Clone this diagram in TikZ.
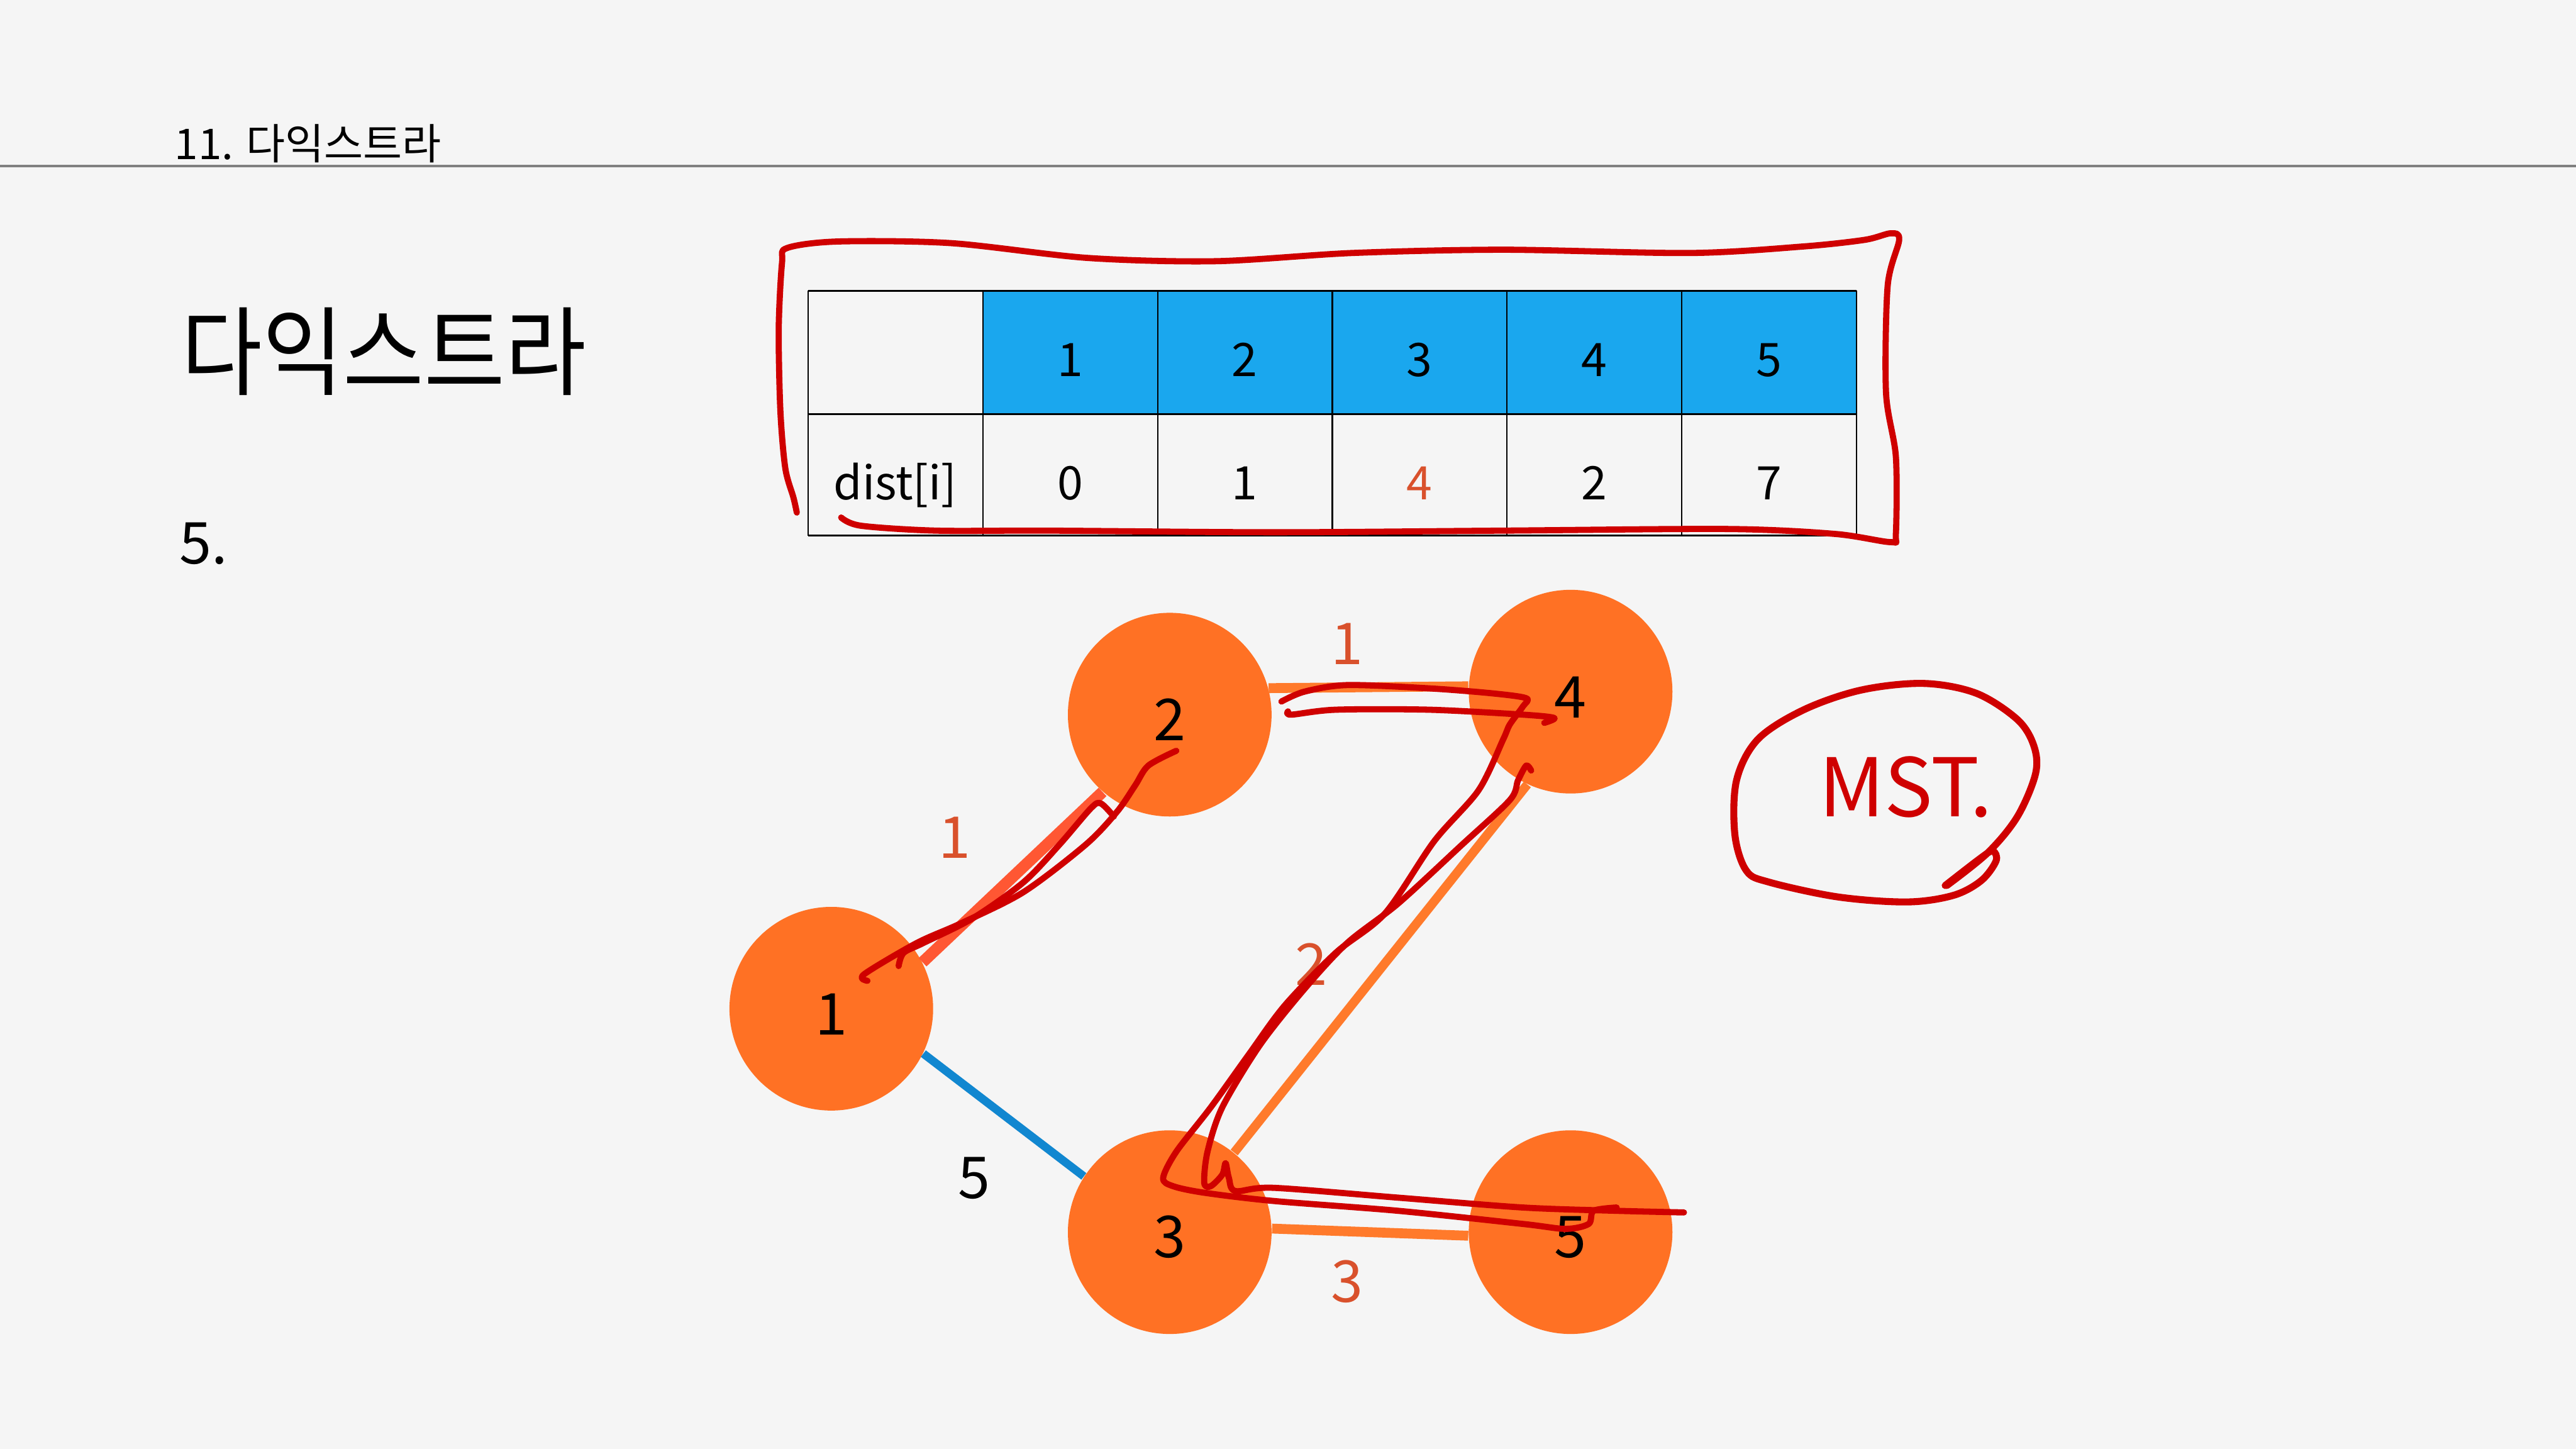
\documentclass[tikz,border=0pt]{standalone}
\usepackage{fontspec}
\setmainfont{Noto Sans CJK KR}
\usepackage{xcolor}

\definecolor{slidebg}{HTML}{F5F5F5}
\definecolor{cellblue}{HTML}{1AA7EE}
\definecolor{vertexorange}{HTML}{FF7124}
\definecolor{edgeorange}{HTML}{FF7A2B}
\definecolor{edgecoral}{HTML}{FF5733}
\definecolor{edgeblue}{HTML}{1187D0}
\definecolor{weightred}{HTML}{D9512C}
\definecolor{penred}{HTML}{CF0000}

\tikzset{
  vertex/.style={circle,fill=vertexorange,minimum size=2.48cm,inner sep=0pt,text height=18pt,font=\fontsize{20}{24}\selectfont},
  weight/.style={text=weightred,font=\fontsize{20}{24}\selectfont,inner sep=0pt},
  tablenum/.style={font=\fontsize{16}{19}\selectfont,anchor=base,inner sep=0pt},
  pen/.style={penred,line width=0.075cm,line cap=round,line join=round},
}

\begin{document}
\begin{tikzpicture}[x=0.02cm,y=-0.02cm]
\fill[slidebg] (0,0) rectangle (1568,882);
\useasboundingbox (0,0) rectangle (1568,882);

% Slide header and title
\node[anchor=base west,inner sep=0pt,font=\fontsize{14.7}{17}\selectfont] (header) at (106,97) {11. 다익스트라};
\draw[gray,line width=0.03cm] (0,101) -- (1568,101);
\node[anchor=base west,inner sep=0pt,font=\fontsize{30.5}{36}\selectfont] (title) at (110,236) {\scalebox{1}[1.1]{다익스트라}};
\node[anchor=base west,inner sep=0pt,font=\fontsize{20}{24}\selectfont] (stepno) at (109,343) {5.};

% Distance table
\foreach \i in {1,...,5}
  \fill[cellblue] ({492+106.33*\i},177) rectangle ({598.33+106.33*\i},252);
\foreach \c in {0,...,6}
  \draw[line width=0.5pt] ({492+106.33*\c},177) -- ({492+106.33*\c},326);
\foreach \r in {177,252,326}
  \draw[line width=0.6pt] (492,\r) -- (1130,\r);
\node[tablenum] (rowlabel) at (545,304) {dist[i]};
\foreach \i/\d/\c in {1/0/black,2/1/black,3/4/weightred,4/2/black,5/7/black} {
  \node[tablenum] (head\i) at ({545+106.33*\i},229) {\i};
  \node[tablenum,text=\c] (dist\i) at ({545+106.33*\i},304) {\d};
}

% Graph
\node[vertex] (v1) at (506,614) {1};
\node[vertex] (v2) at (712,435) {2};
\node[vertex] (v4) at (956,421) {4};
\node[vertex] (v3) at (712,750) {3};
\node[vertex] (v5) at (956,750) {5};

\draw[edgecoral,line width=0.14cm] (v1.27) -- (v2.229);
\draw[edgeorange,line width=0.12cm] (v2.15) -- (v4.177);
\draw[edgeorange,line width=0.11cm] (v4.245) -- (v3.51);
\draw[edgeorange,line width=0.12cm] (v3.2) -- (v5.182);
\draw[edgeblue,line width=0.1cm] (v1.-26) -- (v3.147);

\node[weight] (w12) at (581,510) {1};
\node[weight] (w24) at (820,392) {1};
\node[weight] (w34) at (798,587) {2};
\node[weight] (w35) at (820,780) {3};
\node[weight,text=black] (w13) at (593,717) {5};

% Hand-drawn marks
\draw[pen] plot[smooth,tension=0.5] coordinates {(485,312) (483,303) (478,285) (475,250) (474,200) (476,160) (479,151) (510,147) (579,148) (662,157) (740,159) (823,154) (915,152) (1029,154) (1098,150) (1135,146) (1151,142) (1156,146) (1149,174) (1148,239) (1154,278) (1154,325) (1151,330) (1117,325) (1052,322) (914,323) (776,324) (639,323) (570,323) (524,320) (512,315)};

\draw[pen] plot[smooth,tension=0.5] coordinates {(716,457) (699,466) (691,478) (680,494) (661,514) (623,543) (585,562) (558,574) (526,593) (528,597)};
\draw[pen] plot[smooth,tension=0.5] coordinates {(547,588) (550,580) (562,574) (592,559) (623,537) (645,514) (664,492) (670,489) (678,497)};

\draw[pen] plot[smooth,tension=0.5] coordinates {(780,427) (794,421) (820,417) (870,419) (908,422) (929,425) (927,430) (919,441) (915,450) (900,481) (873,512) (843,556) (813,580) (782,612) (760,642) (737,674) (716,701) (708,717) (714,722) (733,726) (775,731) (851,737) (927,745) (953,748) (967,745) (970,737) (984,735)};
\draw[pen] plot[smooth,tension=0.5] coordinates {(784,433) (786,435) (813,432) (870,432) (927,435) (946,437) (940,440)};
\draw[pen] plot[smooth,tension=0.5] coordinates {(932,469) (929,466) (924,475) (919,487) (889,515) (851,550) (820,574) (794,602) (767,636) (744,674) (735,701) (733,720) (737,722) (744,715) (746,708) (748,717) (752,725) (775,723) (851,729) (927,735) (984,737) (1025,738)};

% MST note
\node[text=penred,anchor=base,inner sep=0pt,font=\fontsize{28}{34}\selectfont] (mst) at (1160,497) {MST.};
\draw[pen,line width=0.085cm] plot[smooth,tension=0.55] coordinates {(1184,539) (1206,522) (1213,518) (1215,524) (1206,536) (1189,545) (1161,549) (1119,546) (1077,537) (1063,530) (1056,508) (1057,475) (1070,450) (1098,432) (1133,420) (1171,416) (1203,422) (1228,438) (1238,454) (1239,471) (1228,497) (1210,519) (1185,539)};
\end{tikzpicture}
\end{document}
